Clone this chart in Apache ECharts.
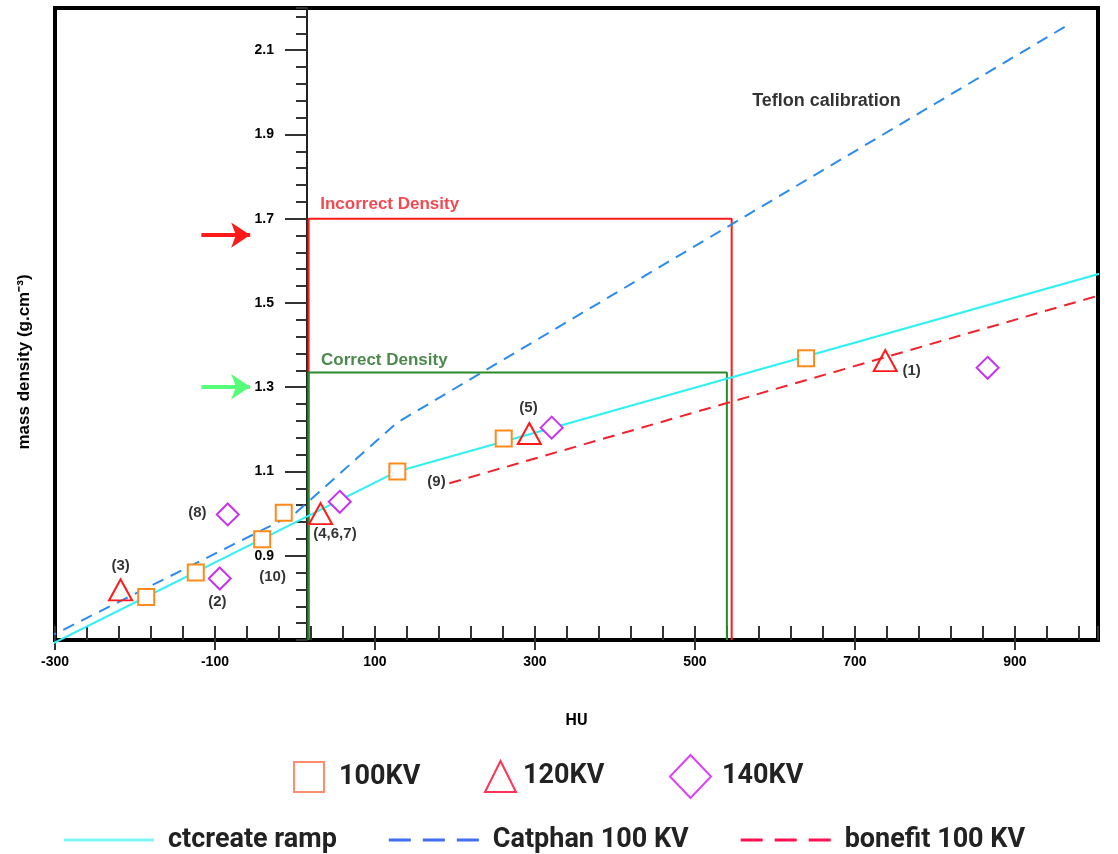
<!DOCTYPE html>
<html>
<head>
<meta charset="utf-8">
<title>mass density vs HU</title>
<script src="https://cdn.jsdelivr.net/npm/echarts@6/dist/echarts.min.js"></script>
<style>
    html, body {margin: 0; padding: 0; background: #fff;}
    #chart {width: 1118px; height: 854px;}
</style>
</head>
<body>
<div id="chart"></div>
<script>
// calibration curves (HU -> g/cm3)
var ctcreateHU = [-310, 128, 1022];
var ctcreateRho = [0.685, 1.10, 1.578];
var catphanHU = [-312, 0, 127, 971];
var catphanRho = [0.703, 1.0, 1.215, 2.165];
var bonefitHU = [193, 1013];
var bonefitRho = [1.072, 1.522];

// measured inserts
var kv100HU = [-186, -124, -41, -14, 128, 261, 639];
var kv100Rho = [0.802, 0.86, 0.939, 1.002, 1.10, 1.178, 1.369];
var kv120HU = [-218, 32, 293, 738];
var kv120Rho = [0.819, 1.0, 1.19, 1.363];
var kv140HU = [-94, -84, 56, 321, 866];
var kv140Rho = [0.846, 0.998, 1.028, 1.204, 1.346];

// insert numbers
var insertNames = ['(3)', '(8)', '(2)', '(10)', '(4,6,7)', '(5)', '(9)', '(1)'];
var insertNameHU = [-218, -122, -97, -28, 50, 292, 177, 771];
var insertNameRho = [0.876, 1.001, 0.79, 0.85, 0.952, 1.251, 1.075, 1.338];

// density read-off boxes
var boxLeftHU = 17;
var incorrectHU = 546, incorrectRho = 1.7;
var correctHU = 540, correctRho = 1.335;
var arrowHU = [-117, -56];
var arrowRho = [1.661, 1.301];

// captions
var captionText = ['Incorrect Density', 'Correct Density', 'Teflon calibration'];
var captionHU = [31, 32, 571];
var captionRho = [1.733, 1.365, 1.979];

// axes
var huMin = -300, huMax = 1004, huStep = 200, huMinor = 40;
var rhoMin = 0.7, rhoMax = 2.2, rhoStep = 0.2, rhoMinor = 0.04;

function pairs(xs, ys) {
    var out = [];
    for (var i = 0; i < xs.length; i++) {
        out.push([xs[i], ys[i]]);
    }
    return out;
}
function box(x0, x1, y) {
    return [[x0, rhoMin], [x0, y], [x1, y], [x1, rhoMin]];
}

var labelFont = {fontFamily: 'Liberation Sans', fontWeight: 'bold', fontSize: 14, color: '#000'};
var legendText = {fontFamily: 'Roboto', fontWeight: 'bold', fontSize: 27, color: '#222', lineHeight: 30};

var notes = [];
insertNames.forEach(function (n, i) {
    notes.push({name: n, value: [insertNameHU[i], insertNameRho[i]]});
});
var captionColors = ['#ee1c24', '#1e6b1e', '#000'];
var captionSizes = [17, 17, 18];
var captions = [];
captionText.forEach(function (t, i) {
    captions.push({
        name: t, value: [captionHU[i], captionRho[i]],
        label: {color: captionColors[i], fontSize: captionSizes[i]}
    });
});

var myChart = echarts.init(document.getElementById('chart'));
var option = {
    animation: false,
    backgroundColor: '#fff',
    grid: {left: 55, right: 20, top: 8, bottom: 214, show: true, borderColor: '#000', borderWidth: 4},
    xAxis: [{
        type: 'value', position: 'bottom', min: huMin, max: huMax, interval: huStep,
        name: 'HU', nameLocation: 'middle', nameGap: 73,
        nameTextStyle: {fontFamily: 'Roboto', fontWeight: 'bold', fontSize: 16, color: '#000'},
        axisLine: {show: false},
        axisTick: {show: true, inside: false, length: 10, lineStyle: {color: '#333', width: 2}},
        axisLabel: Object.assign({margin: 15, showMaxLabel: false}, labelFont),
        splitLine: {show: false}
    }, {
        type: 'value', position: 'bottom', min: huMin, max: huMax, interval: huMinor,
        axisLine: {show: false},
        axisTick: {show: true, inside: true, length: 14, lineStyle: {color: '#333', width: 2}},
        axisLabel: {show: false},
        splitLine: {show: false}
    }],
    yAxis: [{
        type: 'value', position: 'left', offset: -252, min: rhoMin, max: rhoMax, interval: rhoStep,
        axisLine: {show: true, onZero: false, lineStyle: {color: '#222', width: 2}},
        axisTick: {show: true, inside: false, length: 22, lineStyle: {color: '#333', width: 2}},
        axisLabel: Object.assign({margin: 33, showMinLabel: false, showMaxLabel: false}, labelFont),
        splitLine: {show: false}
    }, {
        type: 'value', position: 'left', offset: -252, min: rhoMin, max: rhoMax, interval: rhoMinor,
        axisLine: {show: false, onZero: false},
        axisTick: {show: true, inside: false, length: 11, lineStyle: {color: '#333', width: 2}},
        axisLabel: {show: false},
        splitLine: {show: false}
    }],
    graphic: [{
        type: 'text', x: 24, y: 362, rotation: Math.PI / 2,
        style: {text: 'mass density (g.cm⁻³)', font: 'bold 17px "Liberation Sans"', fill: '#000', align: 'center', verticalAlign: 'middle'}
    }],
    legend: [{
        left: 293, top: 761, padding: 0, itemWidth: 30, itemHeight: 30, selectedMode: false,
        textStyle: Object.assign({padding: [0, 0, 0, 10]}, legendText),
        data: [{name: '100KV', icon: 'rect', itemStyle: {color: 'rgba(0,0,0,0)', borderColor: '#ff8d72', borderWidth: 2}}]
    }, {
        left: 484, top: 760, padding: 0, itemWidth: 31, itemHeight: 31, selectedMode: false,
        textStyle: Object.assign({padding: [0, 0, 0, 2]}, legendText),
        data: [{name: '120KV', icon: 'triangle', itemStyle: {color: 'rgba(0,0,0,0)', borderColor: '#ff3355', borderWidth: 2}}]
    }, {
        left: 669, top: 754, padding: 0, itemWidth: 41, itemHeight: 43, selectedMode: false,
        textStyle: Object.assign({padding: [0, 0, 0, 6]}, legendText),
        data: [{name: '140KV', icon: 'diamond', itemStyle: {color: 'rgba(0,0,0,0)', borderColor: '#e040fb', borderWidth: 2}}]
    }, {
        left: 64, top: 825, padding: 0, itemWidth: 90, itemHeight: 3, itemGap: 52, selectedMode: false,
        textStyle: Object.assign({padding: [0, 0, 0, 9]}, legendText),
        data: [
            {name: 'ctcreate ramp', icon: 'path://M0,0H90V3H0Z', itemStyle: {color: '#7ff6f6', borderWidth: 0}},
            {name: 'Catphan 100 KV', icon: 'path://M0,0H22V3H0Z M34,0H56V3H34Z M68,0H90V3H68Z', itemStyle: {color: '#3f6ff0', borderWidth: 0}},
            {name: 'bonefit 100 KV', icon: 'path://M0,0H22V3H0Z M34,0H56V3H34Z M68,0H90V3H68Z', itemStyle: {color: '#ff1050', borderWidth: 0}}
        ]
    }],
    series: [{
        name: 'ctcreate ramp', type: 'line', data: pairs(ctcreateHU, ctcreateRho), symbol: 'none', clip: false,
        lineStyle: {color: '#2ff0f2', width: 2}, itemStyle: {color: '#2ff0f2'}, z: 3
    }, {
        name: 'Catphan 100 KV', type: 'line', data: pairs(catphanHU, catphanRho), symbol: 'none', clip: false,
        lineStyle: {color: '#2b8cee', width: 2, type: [12, 8]}, itemStyle: {color: '#2b8cee'}, z: 3
    }, {
        name: 'bonefit 100 KV', type: 'line', data: pairs(bonefitHU, bonefitRho), symbol: 'none', clip: false,
        lineStyle: {color: '#f2222c', width: 2, type: [12, 8]}, itemStyle: {color: '#f2222c'}, z: 3
    }, {
        name: 'incorrect box', type: 'line', data: box(boxLeftHU, incorrectHU, incorrectRho), symbol: 'none', silent: true,
        lineStyle: {color: '#ff1a1a', width: 2}, z: 2
    }, {
        name: 'correct box', type: 'line', data: box(boxLeftHU, correctHU, correctRho), symbol: 'none', silent: true,
        lineStyle: {color: '#2a8a2a', width: 2}, z: 2
    }, {
        type: 'lines', coordinateSystem: 'cartesian2d', symbol: ['none', 'arrow'], symbolSize: 19, silent: true,
        lineStyle: {width: 4, opacity: 1},
        data: [
            {coords: [[arrowHU[0], arrowRho[0]], [arrowHU[1], arrowRho[0]]], lineStyle: {color: '#ff1a1a'}},
            {coords: [[arrowHU[0], arrowRho[1]], [arrowHU[1], arrowRho[1]]], lineStyle: {color: '#55ff77'}}
        ],
        z: 4
    }, {
        name: '100KV', type: 'scatter', data: pairs(kv100HU, kv100Rho), symbol: 'rect', symbolSize: 16,
        itemStyle: {color: '#fff', borderColor: '#ff8a1c', borderWidth: 2, opacity: 1}, z: 5
    }, {
        name: '120KV', type: 'scatter', data: pairs(kv120HU, kv120Rho), symbol: 'triangle', symbolSize: [23, 21],
        itemStyle: {color: 'rgba(0,0,0,0)', borderColor: '#ff1a1a', borderWidth: 2, opacity: 1}, z: 5
    }, {
        name: '140KV', type: 'scatter', data: pairs(kv140HU, kv140Rho), symbol: 'diamond', symbolSize: [22, 22],
        itemStyle: {color: '#fff', borderColor: '#c634f2', borderWidth: 2, opacity: 1}, z: 5
    }, {
        type: 'scatter', data: notes, symbolSize: 1, silent: true, itemStyle: {color: 'rgba(0,0,0,0)'},
        label: {show: true, position: 'inside', formatter: '{b}', fontFamily: 'Liberation Sans', fontWeight: 'bold', fontSize: 15, color: '#000'},
        z: 6
    }, {
        type: 'scatter', data: captions, symbolSize: 1, silent: true, itemStyle: {color: 'rgba(0,0,0,0)'},
        label: {show: true, position: 'right', distance: 0, formatter: '{b}', fontFamily: 'Liberation Sans', fontWeight: 'bold'},
        z: 6
    }]
};
myChart.setOption(option);
</script>
</body>
</html>
